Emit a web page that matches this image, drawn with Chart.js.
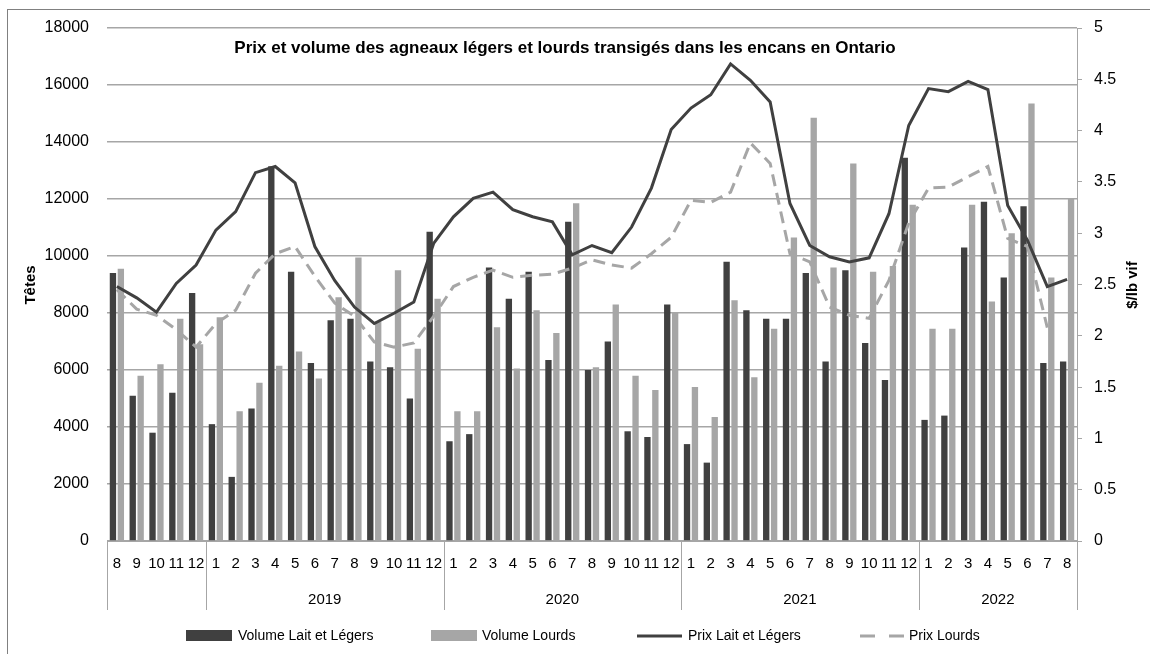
<!DOCTYPE html>
<html>
<head>
<meta charset="utf-8">
<script src="https://cdn.jsdelivr.net/npm/chart.js@4"></script>
<style>
  body { margin: 0; background: #fff; }
  canvas { display: block; }
</style>
</head>
<body>
<canvas id="agneauxChart" width="1150" height="654"></canvas>
<script>
// mois (aout 2018 -> aout 2022)
var months = ['8', '9', '10', '11', '12',
    '1', '2', '3', '4', '5', '6', '7', '8', '9', '10', '11', '12',
    '1', '2', '3', '4', '5', '6', '7', '8', '9', '10', '11', '12',
    '1', '2', '3', '4', '5', '6', '7', '8', '9', '10', '11', '12',
    '1', '2', '3', '4', '5', '6', '7', '8'];
var yearLabels = ['', '2019', '2020', '2021', '2022'];
var yearSpans = [5, 12, 12, 12, 8];

// Têtes
var volLegers = [9400, 5100, 3800, 5200, 8700,
    4100, 2250, 4650, 13150, 9450, 6250, 7750, 7800, 6300, 6100, 5000, 10850,
    3500, 3750, 9600, 8500, 9450, 6350, 11200, 6000, 7000, 3850, 3650, 8300,
    3400, 2750, 9800, 8100, 7800, 7800, 9400, 6300, 9500, 6950, 5650, 13450,
    4250, 4400, 10300, 11900, 9250, 11750, 6250, 6300];
var volLourds = [9550, 5800, 6200, 7800, 6900,
    7850, 4550, 5550, 6150, 6650, 5700, 8550, 9950, 7700, 9500, 6750, 8500,
    4550, 4550, 7500, 6050, 8100, 7300, 11850, 6100, 8300, 5800, 5300, 8000,
    5400, 4350, 8450, 5750, 7450, 10650, 14850, 9600, 13250, 9450, 9650, 11800,
    7450, 7450, 11800, 8400, 10800, 15350, 9250, 12000];

// $/lb vif
var prixLegers = [2.48, 2.37, 2.23, 2.51, 2.69,
    3.03, 3.21, 3.59, 3.65, 3.49, 2.87, 2.54, 2.28, 2.12, 2.22, 2.33, 2.90,
    3.16, 3.34, 3.40, 3.23, 3.16, 3.11, 2.79, 2.88, 2.81, 3.06, 3.44, 4.01,
    4.22, 4.35, 4.65, 4.49, 4.28, 3.29, 2.88, 2.77, 2.72, 2.76, 3.19, 4.05,
    4.41, 4.38, 4.48, 4.40, 3.27, 2.93, 2.48, 2.55];
var prixLourds = [2.45, 2.26, 2.20, 2.06, 1.89,
    2.12, 2.25, 2.61, 2.80, 2.87, 2.58, 2.32, 2.19, 1.94, 1.89, 1.93, 2.19,
    2.48, 2.57, 2.64, 2.57, 2.59, 2.60, 2.66, 2.74, 2.69, 2.66, 2.80, 2.96,
    3.32, 3.30, 3.40, 3.88, 3.68, 2.80, 2.72, 2.28, 2.20, 2.17, 2.54, 3.10,
    3.44, 3.45, 3.55, 3.65, 2.95, 2.87, 2.08, null];

var DARK = '#404040';
var LIGHT = '#a6a6a6';
var GRID = '#a6a6a6';
var FONT = '"Liberation Sans", Arial, sans-serif';

Chart.defaults.font.family = FONT;
Chart.defaults.color = '#000';

// titre, titres d'axes, années, légende
var decor = {
    id: 'decor',
    beforeDraw: function (chart) {
        var ctx = chart.ctx;
        ctx.save();
        ctx.fillStyle = '#fff';
        ctx.fillRect(0, 0, chart.width, chart.height);
        ctx.restore();
    },
    afterDraw: function (chart) {
        var ctx = chart.ctx;
        var area = chart.chartArea;
        var x = chart.scales.x;
        ctx.save();

        // cadre
        ctx.strokeStyle = '#808080';
        ctx.lineWidth = 1;
        ctx.strokeRect(7.5, 9.5, 1300, 800);

        // titre
        ctx.fillStyle = '#000';
        ctx.font = 'bold 17px ' + FONT;
        ctx.textAlign = 'center';
        ctx.textBaseline = 'middle';
        ctx.fillText('Prix et volume des agneaux légers et lourds transigés dans les encans en Ontario', 565, 48);

        // titres d'axes
        ctx.font = 'bold 15px ' + FONT;
        ctx.save();
        ctx.translate(31, 285);
        ctx.rotate(-Math.PI / 2);
        ctx.fillText('Têtes', 0, 0);
        ctx.restore();
        ctx.save();
        ctx.translate(1133, 285);
        ctx.rotate(-Math.PI / 2);
        ctx.fillText('$/lb vif', 0, 0);
        ctx.restore();

        // séparateurs et années
        var cat = x.getPixelForValue(1) - x.getPixelForValue(0);
        var start = 0;
        ctx.strokeStyle = GRID;
        ctx.lineWidth = 1;
        ctx.font = '15px ' + FONT;
        var edges = [x.getPixelForValue(0) - cat / 2];
        for (var i = 0; i < yearSpans.length; i++) {
            var end = start + yearSpans[i];
            edges.push(x.getPixelForValue(end - 1) + cat / 2);
            var mid = (x.getPixelForValue(start) + x.getPixelForValue(end - 1)) / 2;
            ctx.fillText(yearLabels[i], mid, 600);
            start = end;
        }
        edges.forEach(function (e) {
            var px = Math.round(e) + 0.5;
            ctx.beginPath();
            ctx.moveTo(px, area.bottom);
            ctx.lineTo(px, area.bottom + 69);
            ctx.stroke();
        });

        // légende
        var ly = 636;
        ctx.textAlign = 'left';
        ctx.font = '14px ' + FONT;
        ctx.fillStyle = DARK;
        ctx.fillRect(186, ly - 6, 46, 11);
        ctx.fillStyle = LIGHT;
        ctx.fillRect(431, ly - 6, 46, 11);
        ctx.lineWidth = 3;
        ctx.strokeStyle = DARK;
        ctx.beginPath(); ctx.moveTo(637, ly); ctx.lineTo(682, ly); ctx.stroke();
        ctx.strokeStyle = LIGHT;
        ctx.setLineDash([15, 14]);
        ctx.beginPath(); ctx.moveTo(860, ly); ctx.lineTo(904, ly); ctx.stroke();
        ctx.setLineDash([]);
        ctx.fillStyle = '#000';
        ctx.fillText('Volume Lait et Légers', 238, ly);
        ctx.fillText('Volume Lourds', 482, ly);
        ctx.fillText('Prix Lait et Légers', 688, ly);
        ctx.fillText('Prix Lourds', 909, ly);

        ctx.restore();
    }
};

var ctx = document.getElementById('agneauxChart');
var agneauxChart = new Chart(ctx, {
    type: 'bar',
    data: {
        labels: months,
        datasets: [{
            label: 'Volume Lait et Légers',
            data: volLegers,
            backgroundColor: DARK,
            yAxisID: 'y',
            order: 3
        }, {
            label: 'Volume Lourds',
            data: volLourds,
            backgroundColor: LIGHT,
            yAxisID: 'y',
            order: 3
        }, {
            type: 'line',
            label: 'Prix Lait et Légers',
            data: prixLegers,
            borderColor: DARK,
            borderWidth: 3,
            pointRadius: 0,
            tension: 0,
            yAxisID: 'y2',
            order: 1
        }, {
            type: 'line',
            label: 'Prix Lourds',
            data: prixLourds,
            borderColor: LIGHT,
            borderWidth: 3,
            borderDash: [12, 7],
            pointRadius: 0,
            tension: 0,
            yAxisID: 'y2',
            order: 2
        }]
    },
    options: {
        responsive: false,
        animation: false,
        devicePixelRatio: 1,
        layout: { padding: { left: 0, right: 0, top: 28, bottom: 44 } },
        datasets: {
            bar: { categoryPercentage: 0.8, barPercentage: 0.8 }
        },
        plugins: {
            legend: { display: false },
            tooltip: { enabled: false }
        },
        scales: {
            x: {
                offset: true,
                grid: { display: false, drawTicks: false },
                border: { display: true, color: GRID },
                ticks: { autoSkip: false, maxRotation: 0, padding: 14, font: { size: 15 } },
                afterFit: function (s) { s.height = 69; }
            },
            y: {
                position: 'left',
                min: 0,
                max: 18000,
                ticks: { stepSize: 2000, padding: 18, font: { size: 16 }, callback: function (v) { return String(v); } },
                grid: { color: GRID, lineWidth: 1.5, drawTicks: false },
                border: { display: false },
                afterFit: function (s) { s.width = 107; }
            },
            y2: {
                position: 'right',
                min: 0,
                max: 5,
                ticks: { stepSize: 0.5, padding: 12, font: { size: 16 }, callback: function (v) { return String(Math.round(v * 10) / 10); } },
                grid: { drawOnChartArea: false, color: GRID, tickLength: 5 },
                border: { display: true, color: GRID },
                afterFit: function (s) { s.width = 73; }
            }
        }
    },
    plugins: [decor]
});
</script>
</body>
</html>
